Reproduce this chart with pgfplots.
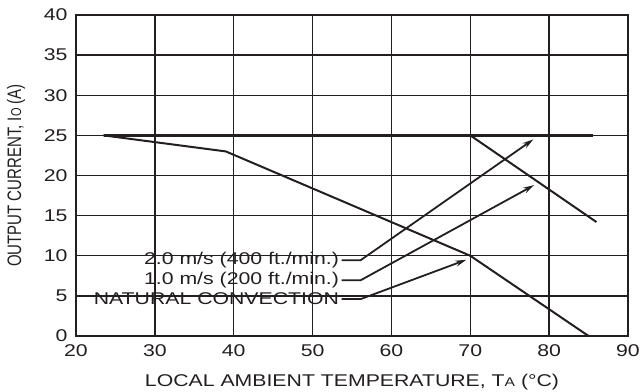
\documentclass[border=0pt]{standalone}
\usepackage{fontspec}
\setmainfont{Liberation Sans}
\usepackage{graphicx}
\usepackage{pgfplots}
\pgfplotsset{compat=1.18}
\usetikzlibrary{arrows.meta, calc}

\definecolor{ink}{RGB}{35,31,32}
% the reference is stretched sideways, so the text is too
\newcommand\sx[1]{\scalebox{1.25}[1]{#1}}
\newcommand\sy[1]{\scalebox{1}[1.3]{#1}}
\newcommand\lbl{\fontsize{17}{20}\selectfont}
\newcommand\sm[1]{{\fontsize{12.5}{14}\selectfont #1}}

\begin{document}
\begin{tikzpicture}
  \begin{axis}[
    name=ax,
    scale only axis,
    width=552pt, height=321pt,
    xmin=20, xmax=90, ymin=0, ymax=40,
    xtick={20,30,...,90}, ytick={0,5,...,40},
    major tick length=0pt,
    grid=major,
    major grid style={ink, line width=1.4pt},
    axis line style={ink, line width=2.4pt},
    /pgf/number format/assume math mode=true,
    xticklabel={\sx{\pgfmathprintnumber{\tick}}},
    yticklabel={\sx{\pgfmathprintnumber{\tick}}},
    tick label style={font=\lbl, text=ink},
    xticklabel style={anchor=base, yshift=-20pt},
    yticklabel style={anchor=east, xshift=-5pt},
    xlabel={\sx{LOCAL AMBIENT TEMPERATURE, T\sm{A} (°C)}},
    ylabel={\sy{OUTPUT CURRENT, I{\fontsize{11}{13}\selectfont O} (A)}},
    label style={text=ink},
    xlabel style={font=\lbl, at={(axis description cs:0.5,-0.156)}, anchor=base},
    ylabel style={font=\fontsize{15}{18}\selectfont, at={(axis description cs:-0.1087,0.5)}, anchor=center},
    clip=false,
  ]
  % 1.0 m/s
  \addplot[ink, line width=2pt] coordinates {
    (23.5,25) (70,25) (86,14.2)
  };
  % natural convection
  \addplot[ink, line width=2pt] coordinates {
    (23.5,25) (39,23) (70,10) (85,0)
  };
  % 2.0 m/s
  \addplot[ink, line width=3pt] coordinates {
    (23.5,25) (85.5,25)
  };
  % leaders to the curves
  \addplot[ink, line width=1.8pt, -{Stealth[length=11pt,width=6pt]}] coordinates {
    (53.7,9.45) (56.1,9.45) (78.0,24.5)
  };
  \addplot[ink, line width=1.8pt, -{Stealth[length=11pt,width=6pt]}] coordinates {
    (53.7,6.95) (56.1,6.95) (78.1,18.8)
  };
  \addplot[ink, line width=1.8pt, -{Stealth[length=11pt,width=6pt]}] coordinates {
    (53.7,4.6) (56.1,4.6) (69.5,9.5)
  };
  \node[anchor=east, font=\lbl, text=ink, inner sep=1pt] at (axis cs:53.5,9.45) {\sx{2.0 m/s (400 ft./min.)}};
  \node[anchor=east, font=\lbl, text=ink, inner sep=1pt] at (axis cs:53.5,6.95) {\sx{1.0 m/s (200 ft./min.)}};
  \node[anchor=east, font=\lbl, text=ink, inner sep=1pt] at (axis cs:53.5,4.6) {\sx{NATURAL CONVECTION}};
  \end{axis}
  \pgfresetboundingbox
  \path[use as bounding box] ($(ax.south west)+(-76pt,-55pt)$) rectangle ($(ax.north east)+(13pt,15pt)$);
\end{tikzpicture}
\end{document}
